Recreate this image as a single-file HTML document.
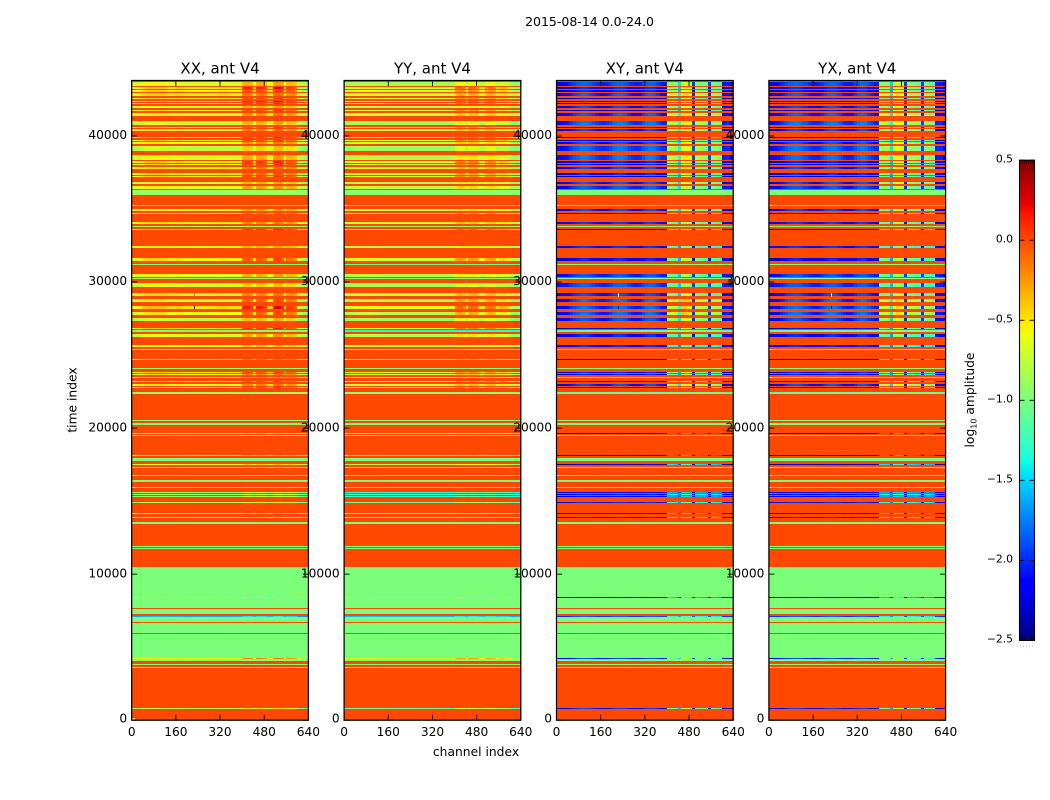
<!DOCTYPE html>
<html lang="en">
<head>
<meta charset="utf-8">
<title>2015-08-14 0.0-24.0 amplitude waterfall</title>
<style>
html,body{margin:0;padding:0;background:#fff;}
svg{display:block;}
text{font-family:"DejaVu Sans","Liberation Sans",sans-serif;fill:#000;}
</style>
</head>
<body>
<svg id="chart" xmlns="http://www.w3.org/2000/svg" width="1050" height="800" viewBox="0 0 1050 800">
<rect x="0" y="0" width="1050" height="800" fill="#fff"/>
<text x="589.5" y="26" font-size="12.5" text-anchor="middle">2015-08-14 0.0-24.0</text>
<g id="panels"></g>
<g id="labels"></g>
<text transform="translate(76.5,400) rotate(-90)" font-size="12.3" text-anchor="middle">time index</text>
<text x="476" y="756" font-size="12.3" text-anchor="middle">channel index</text>
<g id="colorbar"></g>
<text transform="translate(974,400) rotate(-90)" font-size="12.3" text-anchor="middle">log<tspan font-size="8" dy="2.5">10</tspan><tspan dy="-2.5"> amplitude</tspan></text>
</svg>
<script>
// Tick labels and axis ranges
var panelTitles = ["XX, ant V4", "YY, ant V4", "XY, ant V4", "YX, ant V4"];
var channelTicks = [0, 160, 320, 480, 640];
var timeTicks = [0, 10000, 20000, 30000, 40000];
var colorTicks = [0.5, 0.0, -0.5, -1.0, -1.5, -2.0, -2.5];
var colorRange = [-2.5, 0.5];
var channelRange = [0, 640];
var timeRange = [0, 43800];

// Flagged (background) log amplitude
var flagLevel = [0.0];

// Time-index bands, top of the plot to the bottom
var bandStart = [43455,43250,43045,42750,42510,42360,42200,41950,41725,41380,40765,40560,40355,39855,39670,39465,38985,38365,38180,38005,37750,37360,37225,36725,36360,35970,35235,34875,34690,33985,33800,33595,32340,31450,31195,30335,30195,29650,29030,28640,28140,27750,27340,26770,26585,26245,25560,25375,24690,24055,23780,23640,23435,23160,22890,22715,22340,20480,20205,19620,19485,18115,17750,17500,17295,16745,16315,15900,15540,15425,15285,14875,14120,13850,13435,11860,11725,7685,8395,7275,7070,6725,5970,4075,4195,3780,3595,785];
var bandEnd = [43665,43345,43160,42935,42580,42430,42250,42065,41795,41605,41060,40650,40470,39920,39735,39580,39345,38730,38280,38095,37910,37455,37270,36880,36585,36310,35285,35010,34735,34120,33845,33640,32475,31635,31265,30560,30265,29965,29260,28845,28370,27975,27525,26840,26705,26450,25695,25420,24740,24120,23845,23710,23505,23210,23045,22820,22475,20560,20340,19670,19555,18165,17955,17545,17340,16795,16450,15970,15630,15470,15355,14945,14190,13915,13575,11930,11795,10490,8435,7615,7135,7070,6655,5905,4265,3870,3645,855];

// Per-band log amplitude on the quiet channels, one array per polarisation
var xxLevel = [-0.64,-0.55,-0.55,-0.55,-0.5,-0.5,-0.55,-0.68,-0.55,-0.6,-0.7,-0.55,-0.6,-0.5,-0.5,-0.6,-0.75,-0.65,-0.55,-0.55,-0.6,-0.55,-0.5,-0.7,-0.6,-0.9,-0.9,-0.6,-0.55,-0.55,-0.9,-0.5,-0.6,-0.55,-1.0,-0.6,-0.9,-0.68,-0.55,-0.65,-0.5,-0.6,-0.75,-0.5,-1.0,-0.65,-0.6,-0.95,-0.5,-0.95,-0.55,-0.55,-0.5,-0.5,-0.6,-0.5,-0.9,-1.0,-1.0,-0.6,-0.9,-0.55,-1.0,-0.7,-1.0,-1.0,-1.0,-1.0,-0.95,-0.9,-0.95,-0.9,-0.6,-0.7,-1.0,-1.0,-1.0,-1.0,-0.75,-1.0,-1.6,-1.0,-1.0,-1.0,-0.6,-1.0,-0.8,-0.9];
var yyLevel = [-0.85,-0.7,-0.7,-0.7,-0.65,-0.65,-0.7,-0.85,-0.7,-0.75,-0.88,-0.7,-0.75,-0.65,-0.65,-0.75,-0.9,-0.8,-0.7,-0.7,-0.75,-0.7,-0.65,-0.85,-0.75,-0.95,-0.95,-0.78,-0.7,-0.7,-0.95,-0.65,-0.78,-0.7,-1.05,-0.78,-0.95,-0.85,-0.7,-0.8,-0.65,-0.78,-0.9,-0.65,-1.35,-0.8,-0.78,-1.0,-0.65,-1.0,-0.7,-0.7,-0.65,-0.65,-0.75,-0.65,-0.95,-1.0,-1.0,-0.75,-0.95,-0.7,-1.0,-0.85,-1.0,-1.0,-1.0,-1.0,-1.3,-1.25,-1.3,-1.1,-0.75,-0.85,-1.0,-1.0,-1.0,-1.0,-0.85,-1.0,-1.55,-1.0,-1.0,-1.0,-0.65,-1.0,-0.85,-1.1];
var xyLevel = [-2.05,-2.25,-2.25,-2.1,-2.3,-2.3,-2.35,-2.15,-2.3,-2.1,-2.0,-2.25,-2.15,-2.35,-2.35,-2.15,-2.0,-2.0,-2.25,-2.25,-2.15,-2.25,-2.35,-2.1,-2.05,-1.0,-1.0,-2.1,-2.25,-2.15,-1.0,-2.4,-2.15,-2.25,-1.0,-2.05,-1.0,-2.0,-2.1,-2.05,-2.05,-2.05,-2.1,-2.3,-1.05,-2.2,-2.15,-1.0,-2.4,-1.0,-2.25,-2.25,-1.1,-2.25,-2.15,-2.25,-1.1,-1.0,-1.0,-2.4,-1.0,-2.4,-1.0,-2.4,-1.0,-1.0,-1.0,-1.0,-2.2,-2.2,-2.2,-2.15,-2.45,-2.15,-1.0,-1.0,-1.0,-1.0,-2.5,-1.0,-1.95,-1.0,-1.0,-1.0,-2.1,-1.0,-1.0,-2.15];
var yxLevel = [-2.05,-2.25,-2.25,-2.1,-2.3,-2.3,-2.35,-2.15,-2.3,-2.1,-2.0,-2.25,-2.15,-2.35,-2.35,-2.15,-2.0,-2.02,-2.25,-2.25,-2.15,-2.25,-2.35,-2.1,-2.07,-1.0,-1.0,-2.1,-2.25,-2.15,-1.0,-2.4,-2.15,-2.25,-1.0,-2.05,-1.0,-2.02,-2.1,-2.05,-2.05,-2.05,-2.1,-2.3,-1.05,-2.2,-2.15,-1.0,-2.4,-1.0,-2.25,-2.25,-1.1,-2.25,-2.15,-2.25,-1.1,-1.0,-1.0,-2.4,-1.0,-2.4,-1.0,-2.4,-1.0,-1.0,-1.0,-1.0,-2.2,-2.2,-2.2,-2.15,-2.45,-2.15,-1.0,-1.0,-1.0,-1.0,-2.5,-1.0,-1.95,-1.0,-1.0,-1.0,-2.1,-1.0,-1.0,-2.15];

// Strength of the channel structure per band: cross-hand (XY, YX) and parallel-hand (XX, YY)
var crossGain = [0.9,1.1,1.1,1.1,1.1,1.1,1.1,1,1.1,1.1,1,1.1,1.1,1.1,1.1,1.1,0.95,1,1.1,1.1,1.1,1.1,1.1,1,0.9,0.05,0.05,0.9,1,0.9,0.05,1.1,0.8,1,0.05,0.8,0.05,0.75,0.9,1.1,1.1,1.1,1,1.1,0.1,0.9,0.7,0.05,0.9,0.05,1.1,1,0.6,1.1,1.1,1.1,0.05,0,0,0.6,0,0.6,0,0.8,0,0,0,0,0.5,0.7,0.5,0.7,0.8,0.7,0,0,0,0,0.8,0,0.5,0,0,0,0.9,0,0,0.9];
var autoGain = [0.9,1.9,1.5,1.1,1.3,1.8,1.6,1,1.5,1.1,1,1.4,1.2,1.5,1.4,1.1,0.95,1,1.7,1.6,1.2,1.3,1.4,1,0.9,0.05,0.05,0.9,1.2,1,0.05,1.6,0.8,1.4,0.05,0.8,0.05,0.75,1,1.6,1.8,1.5,1.1,1.6,0.1,1,0.7,0.05,1,0.05,1.5,1,0.6,1.3,1.2,1.3,0.05,0,0,0.6,0,0.6,0,0.8,0,0,0,0,0.5,0.7,0.5,0.7,0.8,0.7,0,0,0,0,0.8,0,0.5,0,0,0,1.2,0,0,1.2];

// Channel profiles: 64 bins of 10 channels, log amplitude offset per bin
var xxProfile = [-0.05,-0.05,-0.03,0,0.05,0.08,0.08,0.08,0.08,0.08,0.08,0.08,0.06,0.02,0,0.03,0.05,0.05,0.03,0,0,0,0,0,0,0,0,0,0,0,0,0.02,0.03,0.03,0.02,0,0,0,0,0,0.32,0.36,0.36,0.32,0.05,0.34,0.38,0.34,0.3,0.05,0.05,0.36,0.42,0.42,0.34,0.05,0.3,0.3,0.28,0.24,-0.1,-0.15,-0.2,-0.2];
var yyProfile = [-0.03,-0.03,0,0,0.03,0.05,0.05,0.05,0.05,0.05,0.05,0.03,0.02,0,0,0,0,0,0,0,0,0,0,0,0,0,0,0,0,0,0,0,0,0,0,0,0,0,0,0,0.28,0.32,0.32,0.28,0.08,0.3,0.32,0.3,0.26,0.1,0.08,0.26,0.3,0.3,0.26,0.1,0.18,0.18,0.16,0.12,-0.05,-0.1,-0.1,-0.1];
var xyProfile = [-0.1,-0.1,-0.08,-0.06,0,0.07,0.14,0.18,0.22,0.25,0.25,0.22,0.18,0.14,0.07,0.03,0,0,0.03,0.1,0.18,0.22,0.25,0.25,0.22,0.18,0.1,0.03,0,0,0.03,0.14,0.22,0.25,0.25,0.22,0.14,0.07,0,0,1.2,1.25,1.2,1.15,0.65,1.5,1.5,1.45,1.4,0.1,1.2,1.2,1.15,1.1,1.05,0.1,1.1,1.1,1.05,1.0,-0.05,0,0,-0.1];
var yxProfile = [-0.1,-0.1,-0.07,-0.05,0.02,0.08,0.15,0.2,0.23,0.25,0.25,0.22,0.16,0.13,0.07,0.03,0,0,0.03,0.1,0.18,0.23,0.25,0.25,0.22,0.16,0.1,0.03,0,0,0.03,0.14,0.22,0.25,0.25,0.2,0.14,0.07,0,0,1.2,1.2,1.2,1.15,0.6,1.4,1.45,1.4,1.35,0.1,1.2,1.15,1.15,1.1,1.05,0.1,1.1,1.1,1.05,1.0,-0.05,0,0,-0.1];

// Isolated features: a few channels that differ from the band they sit in
var spikeChannel = [224, 224, 0];
var spikeWidth = [3, 3, 12];
var spikeFrom = [28950, 28150, 0];
var spikeTo = [29260, 28370, 180];
var xxSpike = [-0.05, 0.45, -0.7];
var yySpike = [null, null, null];
var xySpike = [-0.5, 0.45, null];
var yxSpike = [-0.5, 0.45, null];

var panelLevels = [xxLevel, yyLevel, xyLevel, yxLevel];
var panelProfiles = [xxProfile, yyProfile, xyProfile, yxProfile];
var panelGains = [autoGain, autoGain, crossGain, crossGain];
var panelSpikes = [xxSpike, yySpike, xySpike, yxSpike];

var SVGNS = "http://www.w3.org/2000/svg";
var panelLeft = [131.7, 344.1, 556.5, 768.9];
var panelWidth = 176.7;
var plotTop = 80.5;
var plotBottom = 720.2;
var binChannels = 10;

function timeY(v) {
  return plotBottom - (v - timeRange[0]) / (timeRange[1] - timeRange[0]) * (plotBottom - plotTop);
}
function channelX(p, c) {
  return panelLeft[p] + (c - channelRange[0]) / (channelRange[1] - channelRange[0]) * panelWidth;
}
var barTop = 160.2;
var barBottom = 640.4;
function colorY(v) {
  return barBottom - (v - colorRange[0]) / (colorRange[1] - colorRange[0]) * (barBottom - barTop);
}
function lerp(x, pts) {
  for (var i = 1; i < pts.length; i++) {
    if (x <= pts[i][0]) {
      var a = pts[i - 1], b = pts[i];
      return a[1] + (b[1] - a[1]) * (x - a[0]) / (b[0] - a[0]);
    }
  }
  return pts[pts.length - 1][1];
}
function jet(v) {
  var f = (v - colorRange[0]) / (colorRange[1] - colorRange[0]);
  f = Math.max(0, Math.min(1, f));
  var r = lerp(f, [[0, 0], [0.35, 0], [0.66, 1], [0.89, 1], [1, 0.5]]);
  var g = lerp(f, [[0, 0], [0.125, 0], [0.375, 1], [0.64, 1], [0.91, 0], [1, 0]]);
  var b = lerp(f, [[0, 0.5], [0.11, 1], [0.34, 1], [0.65, 0], [1, 0]]);
  return "rgb(" + Math.round(r * 255) + "," + Math.round(g * 255) + "," + Math.round(b * 255) + ")";
}
function rect(parent, x, y, w, h, fill) {
  var el = document.createElementNS(SVGNS, "rect");
  el.setAttribute("x", x);
  el.setAttribute("y", y);
  el.setAttribute("width", w);
  el.setAttribute("height", h);
  el.setAttribute("fill", fill);
  el.setAttribute("shape-rendering", "crispEdges");
  parent.appendChild(el);
  return el;
}
function line(parent, x1, y1, x2, y2, sw) {
  var el = document.createElementNS(SVGNS, "line");
  el.setAttribute("x1", x1);
  el.setAttribute("y1", y1);
  el.setAttribute("x2", x2);
  el.setAttribute("y2", y2);
  el.setAttribute("stroke", "#000");
  el.setAttribute("stroke-width", sw);
  parent.appendChild(el);
  return el;
}
function label(parent, x, y, str, size, anchor) {
  var el = document.createElementNS(SVGNS, "text");
  el.setAttribute("x", x);
  el.setAttribute("y", y);
  el.setAttribute("font-size", size);
  el.setAttribute("text-anchor", anchor);
  el.textContent = str;
  parent.appendChild(el);
  return el;
}

var panelsG = document.getElementById("panels");
var labelsG = document.getElementById("labels");

panelTitles.forEach(function (title, p) {
  var g = document.createElementNS(SVGNS, "g");
  
  
  panelsG.appendChild(g);

  var L = Math.round(channelX(p, channelRange[0]));
  var R = Math.round(channelX(p, channelRange[1]));
  var T = Math.round(plotTop);
  var B = Math.round(plotBottom);

  var bg = rect(g, L, T, R - L, B - T, jet(flagLevel[0]));
  
  

  var levels = panelLevels[p];
  var profile = panelProfiles[p];
  var gains = panelGains[p];
  bandStart.forEach(function (start, b) {
    var y0 = Math.round(timeY(bandEnd[b]));
    var h = Math.max(1, Math.round(timeY(start)) - y0);
    var runStart = 0;
    var runFill = null;
    for (var c = 0; c <= profile.length; c++) {
      var fill = c < profile.length ? jet(levels[b] + profile[c] * gains[b]) : null;
      if (fill !== runFill) {
        if (runFill !== null) {
          var x0 = Math.round(channelX(p, runStart * binChannels));
          var x1 = Math.round(channelX(p, c * binChannels));
          var cell = rect(g, x0, y0, x1 - x0, h, runFill);
          
          
        }
        runStart = c;
        runFill = fill;
      }
    }
  });

  var spikes = panelSpikes[p];
  spikeChannel.forEach(function (ch, s) {
    if (spikes[s] === null) return;
    var sx0 = Math.round(channelX(p, ch));
    var sx1 = Math.max(sx0 + 1, Math.round(channelX(p, ch + spikeWidth[s])));
    var sy0 = Math.round(timeY(spikeTo[s]));
    var sy1 = Math.round(timeY(spikeFrom[s]));
    var spike = rect(g, sx0, sy0, sx1 - sx0, sy1 - sy0, jet(spikes[s]));
    
    
  });

  var xl = panelLeft[p], xr = panelLeft[p] + panelWidth;
  channelTicks.forEach(function (c) {
    var x = channelX(p, c);
    var t1 = line(g, x, plotBottom, x, plotBottom - 5.5, 0.9);
    
    
    var t2 = line(g, x, plotTop, x, plotTop + 5.5, 0.9);
    
    
    var tl = label(labelsG, x, 736, String(c), 12.2, "middle");
    
    
  });
  timeTicks.forEach(function (v) {
    var y = timeY(v);
    var t1 = line(g, xl, y, xl + 5.5, y, 0.9);
    
    
    var t2 = line(g, xr, y, xr - 5.5, y, 0.9);
    
    
    var tl = label(labelsG, xl - 4.5, y + (v === 0 ? 2.5 : 3.2), String(v), 12.2, "end");
    
    
  });

  var frame = document.createElementNS(SVGNS, "rect");
  frame.setAttribute("x", xl);
  frame.setAttribute("y", plotTop);
  frame.setAttribute("width", panelWidth);
  frame.setAttribute("height", plotBottom - plotTop);
  frame.setAttribute("fill", "none");
  frame.setAttribute("stroke", "#000");
  frame.setAttribute("stroke-width", "1.25");
  
  
  g.appendChild(frame);

  var titleEl = label(labelsG, xl + panelWidth / 2, 73.5, title, 15, "middle");
  
  
});

// Colorbar
var cb = document.getElementById("colorbar");
var barLeft = 1019.5, barRight = 1034.5;
for (var i = 0; i < 256; i++) {
  var v0 = colorRange[0] + (colorRange[1] - colorRange[0]) * i / 256;
  var v1 = colorRange[0] + (colorRange[1] - colorRange[0]) * (i + 1) / 256;
  var yTop = Math.round(colorY(v1));
  var yBot = Math.round(colorY(v0));
  if (yBot > yTop) {
    var seg = rect(cb, barLeft, yTop, barRight - barLeft, yBot - yTop, jet((v0 + v1) / 2));
    
    
  }
}
var cbFrame = document.createElementNS(SVGNS, "rect");
cbFrame.setAttribute("x", barLeft);
cbFrame.setAttribute("y", barTop);
cbFrame.setAttribute("width", barRight - barLeft);
cbFrame.setAttribute("height", barBottom - barTop);
cbFrame.setAttribute("fill", "none");
cbFrame.setAttribute("stroke", "#000");
cbFrame.setAttribute("stroke-width", "1.1");


cb.appendChild(cbFrame);
colorTicks.forEach(function (v) {
  var y = colorY(v);
  var a = line(cb, barLeft, y, barLeft + 5, y, 0.9);
  
  
  var b = line(cb, barRight, y, barRight - 5, y, 0.9);
  
  
  var str = (v < 0 ? "\u2212" : "") + Math.abs(v).toFixed(1);
  var t = label(cb, 1013, y + 2.2, str, 10.8, "end");
  
  
});
for (var k = 0; k < 6; k++) {
  var mx = 1022 + k * 2.2;
  var m1 = line(cb, mx, barTop, mx, barTop + 4, 0.7);
  
  
  var m2 = line(cb, mx, barBottom, mx, barBottom - 4, 0.7);
  
  
}
var dots = line(cb, 1017, 646, 1035, 646, 0.8);
dots.setAttribute("stroke", "#999");
dots.setAttribute("stroke-dasharray", "1 2");


</script>
</body>
</html>
